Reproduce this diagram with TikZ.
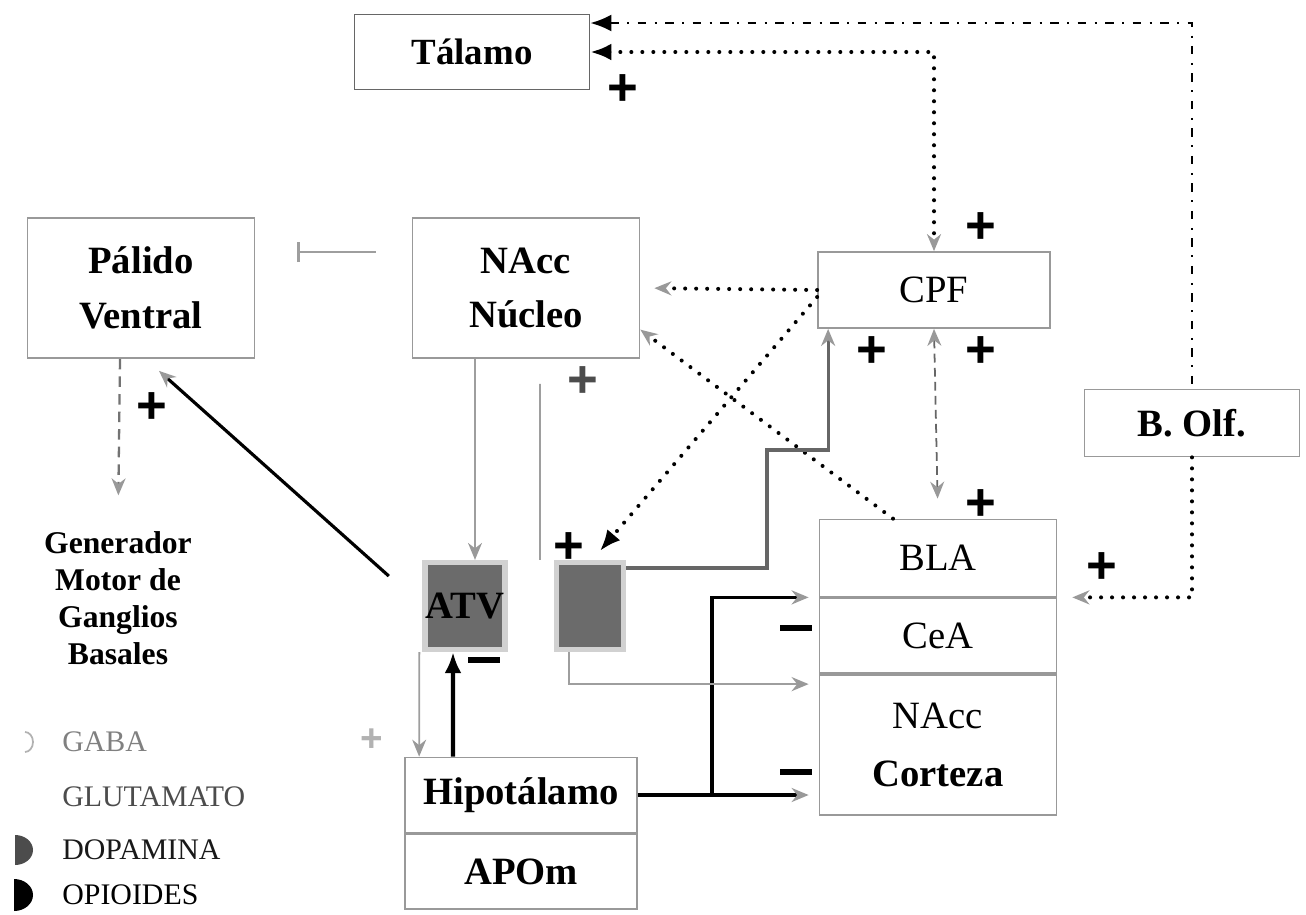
\documentclass[tikz,border=0pt]{standalone}
\usepackage{fontspec}
\setmainfont{Liberation Serif}
\setsansfont{Liberation Sans}
\usetikzlibrary{positioning, arrows.meta}

\begin{document}
\begin{tikzpicture}[
  x=0.02cm, y=-0.02cm,
  every node/.style={font=\fontsize{22}{26}\selectfont, text=black},
  region/.style={
    draw=black!40,
    line width=1pt,
    fill=white,
    align=center,
    inner sep=0pt,
  },
  negrita/.style={font=\fontsize{22}{26}\selectfont\bfseries},
  atv/.style={
    fill=black!58,
    draw=black!18,
    line width=3pt,
    inner sep=0pt,
    font=\fontsize{22}{26}\selectfont\bfseries,
  },
  leyenda/.style={anchor=west, inner sep=0pt, font=\fontsize{17}{20}\selectfont},
  mas/.style={inner sep=0pt, font=\fontsize{30}{30}\selectfont\sffamily\bfseries},
  menos/.style={fill=black, inner sep=0pt, minimum width=0.64cm, minimum height=0.12cm},
  punteado/.style={line width=2.3pt, line cap=round, dash pattern=on 0pt off 0.22cm},
  rayapunto/.style={line width=1.4pt, dash pattern=on 0.17cm off 0.17cm on 0.04cm off 0.17cm},
  firme/.style={line width=1.8pt},
  tenue/.style={line width=1pt, draw=black!38},
  puntagris/.tip={Stealth[length=0.34cm, width=0.28cm, color=black!40, fill=black!40]},
  puntanegra/.tip={Latex[length=0.42cm, width=0.34cm]},
]
  \useasboundingbox (0,0) rectangle (1306,914);

  \node[region, negrita, draw=black!60, minimum width=4.7cm, minimum height=1.5cm,
        font=\fontsize{21}{25}\selectfont\bfseries] (talamo) at (472,52) {Tálamo};
  \node[region, negrita, minimum width=4.54cm, minimum height=2.8cm] (palido) at (141,288) {Pálido\\[5pt]Ventral};
  \node[region, negrita, minimum width=4.54cm, minimum height=2.8cm] (nucleo) at (526,288) {NAcc\\[5pt]Núcleo};
  \node[region, minimum width=4.64cm, minimum height=1.52cm] (cpf) at (934,290) {CPF};
  \node[region, negrita, minimum width=4.3cm, minimum height=1.34cm] (bolf) at (1192,423) {B. Olf.};
  \node[region, minimum width=4.74cm, minimum height=1.54cm] (bla) at (938,558) {BLA};
  \node[region, minimum width=4.74cm, minimum height=1.5cm, below=0pt of bla] (cea) {CeA};
  \node[region, minimum width=4.74cm, minimum height=2.8cm, below=0pt of cea] (nc) {NAcc\\[7pt]\textbf{Corteza}};
  \node[region, negrita, minimum width=4.64cm, minimum height=1.5cm] (hipo) at (521,795) {Hipotálamo};
  \node[region, negrita, minimum width=4.64cm, minimum height=1.5cm, below=0pt of hipo] (apom) {APOm};
  \node[atv, minimum width=1.6cm, minimum height=1.74cm] (atv) at (465,606) {ATV};
  \node[atv, minimum width=1.34cm, minimum height=1.74cm] (atv2) at (590,606) {};
  \node[align=center, font=\fontsize{18}{21}\selectfont\bfseries] (gen) at (118,598)
    {Generador\\Motor de\\Ganglios\\Basales};

  \node[leyenda, text=black!50] (gaba) at (62,742) {GABA};
  \node[leyenda, text=black!70] (glu) at (62,797) {GLUTAMATO};
  \node[leyenda, text=black!90] (dopa) at (62,850) {DOPAMINA};
  \node[leyenda] (opio) at (62,895) {OPIOIDES};
  \draw[black!30, line width=1pt] ([xshift=-0.74cm]gaba.west) ++(0,0.2cm)
    arc[start angle=90, end angle=-90, x radius=0.16cm, y radius=0.2cm];
  \fill[black!70] ([xshift=-0.94cm]dopa.west) ++(0,0.3cm)
    arc[start angle=90, end angle=-90, x radius=0.36cm, y radius=0.3cm] -- cycle;
  \fill[black] ([xshift=-0.96cm]opio.west) ++(0,0.32cm)
    arc[start angle=90, end angle=-90, x radius=0.38cm, y radius=0.32cm] -- cycle;

  % conexiones
  \draw[rayapunto, puntanegra-] ([yshift=0.58cm]talamo.east) -| (bolf.north);
  \draw[punteado, puntanegra-puntagris] (talamo.east) -| (cpf.north);
  \draw[punteado, -puntagris, shorten >=0.3cm] (bolf.south) |- (bla.south east);
  \draw[punteado, -puntagris, shorten >=0.28cm] (cpf.west) -- (nucleo.east);
  \draw[punteado, -puntanegra] ([yshift=-0.14cm]cpf.west) -- ([xshift=0.2cm, yshift=0.18cm]atv2.north);
  \draw[punteado, -puntagris] ([xshift=-0.9cm]bla.north) -- (nucleo.-20);
  \draw[tenue, draw=black!60, dash pattern=on 5pt off 3pt, puntagris-puntagris, shorten >=0.4cm]
    (cpf.south) -- (bla.north);

  \coordinate (codo) at (767,450);
  \draw[firme, draw=black!60, -puntagris] ([yshift=0.76cm]atv2.east) -| (codo) -| ([xshift=0.22cm]cpf.south west);
  \coordinate (rama) at (712,795);
  \draw[firme, -puntagris, shorten >=0.2cm] (hipo.east) -- (hipo.east -| nc.west);
  \draw[firme, -puntagris, shorten >=0.2cm] (rama) |- (cea.north west);
  \draw[tenue, line width=1.5pt, -puntagris, shorten >=0.2cm] ([xshift=-0.42cm]atv2.south) |- ([yshift=-0.2cm]nc.north west);
  \draw[firme, line width=2.4pt, -puntanegra] ([xshift=-1.36cm]hipo.north) -- ([xshift=-0.24cm]atv.south);
  \draw[tenue, -puntagris] ([xshift=-0.06cm]atv.south west) -- ([xshift=0.3cm]hipo.north west);
  \draw[firme, -puntagris, shorten <=0.9cm] (atv.west) -- ([xshift=0.36cm, yshift=-0.24cm]palido.south);
  \draw[tenue, draw=black!55, line width=1.3pt, dash pattern=on 6pt off 4pt, -puntagris, shorten >=0.6cm]
    ([xshift=-0.42cm]palido.south) -- (gen.north);
  \draw[tenue, -puntagris] ([xshift=-1.02cm]nucleo.south) -- ([xshift=0.2cm]atv.north);
  \draw[tenue, shorten <=0.5cm] ([xshift=0.28cm]nucleo.south) -- ([xshift=-1cm]atv2.north);
  \draw[tenue, line width=1.5pt, {Bar[width=0.4cm]}-, shorten <=0.84cm, shorten >=0.72cm]
    ([yshift=0.72cm]palido.east) -- ([yshift=0.72cm]nucleo.west);

  % signos
  \node[mas] (m1) at (623,90) {+};
  \node[mas] (m2) at (981,228) {+};
  \node[mas] (m3) at (872,352) {+};
  \node[mas] (m4) at (981,352) {+};
  \node[mas] (m5) at (981,505) {+};
  \node[mas] (m6) at (1102,568) {+};
  \node[mas, text=black!70] (m7) at (583,382) {+};
  \node[mas] (m8) at (569,548) {+};
  \node[mas] (m9) at (152,408) {+};
  \node[mas, text=black!30, font=\fontsize{22}{22}\selectfont\sffamily\bfseries] (m10) at (372,740) {+};
  \node[menos] (n1) at (484,660) {};
  \node[menos] (n2) at (796,628) {};
  \node[menos] (n3) at (796,772) {};
\end{tikzpicture}
\end{document}
